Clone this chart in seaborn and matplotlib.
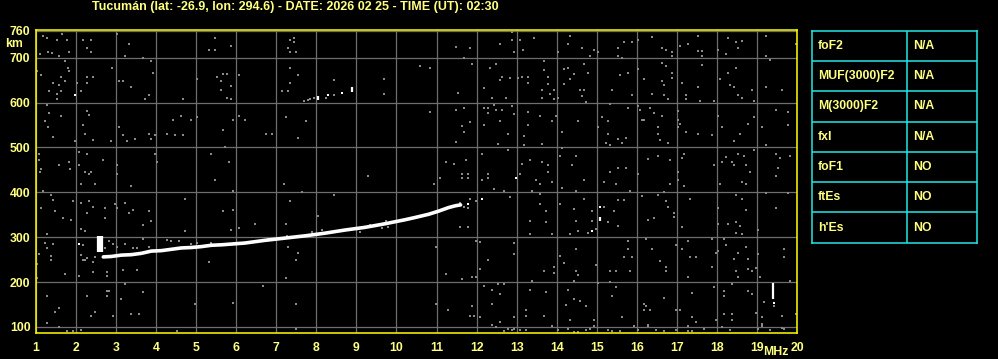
import matplotlib
matplotlib.use("Agg")
import matplotlib.pyplot as plt
import seaborn as sns
import pandas as pd

# ---------------- data ----------------
title = "Tucumán (lat: -26.9, lon: 294.6) - DATE: 2026 02 25 - TIME (UT): 02:30"
freq_ticks = list(range(1, 21))
height_ticks = [100, 200, 300, 400, 500, 600, 700, 760]

# main F-layer echo trace (MHz, km)
trace_f = [2.68, 2.88, 3.13, 3.38, 3.63, 3.88, 4.13, 4.38, 4.63, 4.88, 5.13, 5.38, 5.63,
           6.22, 6.72, 7.22, 7.72, 8.22, 8.72, 9.22, 9.72, 10.22, 10.47, 10.8, 11.05, 11.3, 11.47, 11.6]
trace_h = [256, 257, 260, 261, 264, 269, 270, 273, 276, 277, 279, 282, 283,
           287, 293, 298, 303, 309, 316, 322, 330, 339, 344, 351, 358, 366, 370, 372]

# vertical white echo segments
spike_main_f = [2.6]
spike_main_lo = [267]
spike_main_hi = [303]
spike_f = [8.03, 8.88, 15.08, 19.40]
spike_lo = [606, 623, 336, 162]
spike_hi = [614, 635, 346, 198]

# isolated white echoes
white_f = [2.07, 1.98, 8.63, 8.28, 11.78, 12.13, 12.98, 15.08, 14.88, 19.43]
white_h = [285, 617, 622, 616, 373, 385, 432, 368, 314, 153]

# grey noise dots
noise_f = [
    1.18, 1.28, 1.53, 1.65, 1.78, 1.10, 1.30, 1.40, 1.58, 1.83, 2.18, 2.38, 2.28, 2.38, 3.03, 3.33, 3.23, 3.68, 5.48, 5.33, 5.48,
    1.03, 1.13, 1.73, 1.80, 1.83, 1.63, 1.72, 1.58, 1.43, 1.33, 1.53, 1.63, 1.53, 2.13, 2.03, 2.28, 2.43, 2.28, 2.90, 3.08, 3.18, 3.38, 3.88, 3.93, 3.73, 3.83, 4.68, 5.03, 5.53, 5.63, 5.68, 5.63,
    1.28, 1.33, 1.63, 1.23, 1.30, 1.43, 1.98, 2.28, 2.33, 2.18, 2.23, 2.42, 2.88, 3.08, 3.18, 3.28, 3.48, 3.83, 3.88, 3.98, 4.28, 4.43, 4.63, 4.88, 4.48, 4.68, 5.03, 5.68,
    1.08, 1.08, 1.10, 1.13, 1.58, 1.83, 1.85, 2.08, 2.08, 2.28, 2.23, 2.33, 2.38, 2.13, 2.48, 2.68, 3.03, 3.03, 3.38, 3.98, 4.03, 5.38, 5.48, 1.18,
    1.38, 1.43, 1.13, 1.48, 1.68, 1.88, 1.93, 2.13, 2.33, 2.43, 2.28, 2.73, 2.73, 2.98, 3.03, 3.23, 3.43, 3.33, 3.83, 3.88, 3.68, 2.13, 2.23, 1.27, 4.73, 4.73, 5.68,
    1.08, 1.27, 1.43, 1.23, 1.38, 1.38, 1.03, 1.03, 1.73, 2.08, 2.18, 2.28, 2.43, 2.43, 2.78, 2.78, 3.18, 3.53, 5.33, 2.48,
    1.28, 1.58, 1.48, 1.28, 1.58, 1.93, 2.28, 2.38, 2.48, 2.78, 2.83, 2.78, 2.93, 3.13, 3.38, 3.58, 3.23, 3.68, 4.98, 2.13, 1.78, 4.53,
    2.18, 2.13, 2.23, 2.83, 2.93, 2.73, 3.03, 3.23, 3.43, 3.53, 3.68, 3.83, 4.28, 4.38, 4.58, 4.88, 5.03, 5.38,
    5.88, 7.33, 7.43, 7.43, 7.28, 7.33, 7.48, 5.78, 5.88, 6.08, 5.78, 5.88, 7.33, 7.53, 7.33, 7.13, 7.28, 8.43, 9.68, 9.68,
    5.93, 6.08, 6.23, 6.73, 6.88, 7.23, 7.73, 7.53, 5.73, 5.83, 9.28, 7.18, 5.93, 7.63, 8.43, 7.33, 5.93, 8.03, 6.48, 7.23,
    6.08, 5.88, 7.28, 7.53, 7.48, 7.23, 6.68, 5.93, 7.48, 7.48,
    7.70, 7.78, 7.85, 7.93, 8.23, 8.43,
    6.80, 7.27, 7.88, 8.13, 9.08, 9.33, 9.63, 9.73, 9.80, 10.0,
    11.48, 11.83, 12.88, 12.88, 13.08, 13.43, 12.58, 12.93, 13.16, 14.28, 14.33, 14.63, 14.93, 15.03, 14.83, 14.03,
    10.58, 10.83, 11.68, 11.88, 12.48, 12.33, 12.58, 12.63, 12.83, 13.03, 13.13, 13.28, 13.28, 13.68, 13.68, 13.78, 13.78, 13.63, 13.63, 13.83,
    13.93, 13.93, 14.18, 14.28, 14.33, 14.43, 14.68, 14.78, 14.58, 14.68, 14.63, 14.73, 14.18, 14.03, 11.53, 12.18, 12.38, 12.73,
    10.83, 11.48, 11.68, 11.83, 11.63, 11.68, 11.48, 12.18, 12.28, 12.28, 12.43, 12.48, 12.63, 12.58, 12.18, 12.78, 12.88, 12.93, 13.28, 13.28,
    13.18, 13.18, 13.58, 13.63, 13.88, 13.98, 14.13, 14.53, 15.03, 15.13, 15.23, 12.53,
    12.13, 12.78, 11.23, 11.43, 11.73, 11.63, 11.78, 11.63, 11.78, 11.08, 10.93, 12.28, 12.28, 12.13, 12.43, 12.68, 13.08, 13.13, 13.33, 13.48,
    13.58, 13.63, 13.78, 13.78, 13.88, 14.08, 14.13, 14.38, 14.48, 14.68, 15.18, 14.13, 13.38, 13.58, 14.48,
    11.83, 11.98, 11.58, 11.68, 11.78, 11.58, 11.78, 12.83, 13.58, 13.73, 14.08, 14.43, 14.68, 14.88, 14.88, 15.18, 13.33, 13.73, 13.33, 13.88,
    14.33, 14.48, 14.53, 14.78, 14.98,
    11.98, 12.08, 10.98, 12.93, 12.93, 14.08, 14.48, 12.28, 12.08, 11.23, 11.63, 11.88, 11.98, 13.68, 13.93, 13.93, 14.18, 14.48, 14.53, 14.98,
    13.38, 14.43, 15.03,
    12.18, 12.38, 12.53, 12.68, 12.58, 13.33, 13.73, 14.28, 14.43, 14.58, 14.73, 10.98, 11.28, 11.88, 11.83, 11.93, 12.08, 12.38, 13.23, 13.23,
    13.68, 14.23, 14.33, 14.93, 12.93,
    12.38, 12.48, 12.58, 12.68, 12.78, 12.88, 12.93, 13.08, 13.23, 13.88, 14.03, 14.28, 14.43, 14.53, 14.73, 14.83, 14.93,
    15.68, 15.53, 15.88, 16.03, 16.38, 16.63, 16.73, 16.88, 16.88, 17.08, 17.28, 17.53, 17.53, 17.63, 17.63, 18.03, 18.23, 18.28, 18.48, 18.63,
    18.53, 19.23, 19.23, 19.33, 19.98, 15.53, 15.63,
    15.58, 15.78, 15.38, 15.88, 16.03, 16.18, 16.38, 16.63, 16.68, 16.68, 16.78, 16.88, 16.88, 16.73, 16.63, 17.13, 17.23, 17.23, 17.53, 17.63,
    17.58, 17.93, 18.08, 18.28, 18.48, 18.33, 18.43, 18.53, 18.63, 18.88, 18.93, 19.23, 19.63,
    15.33, 15.28, 15.28, 15.33, 15.53, 15.63, 15.73, 15.78, 16.03, 16.08, 16.13, 16.18, 16.33, 16.43, 16.63, 16.53, 16.53, 16.58, 16.78, 17.03,
    17.03, 17.08, 17.03, 17.23, 17.53, 17.88, 18.03, 18.13, 18.43, 18.58, 18.78, 18.93, 19.13, 19.48, 19.78, 19.78, 19.23,
    16.28, 16.53, 16.83, 17.18, 17.13, 17.03, 17.03, 17.18, 16.83, 16.03, 15.33, 15.53, 15.73, 15.48, 15.83, 17.93, 18.08, 18.13, 18.23, 18.38,
    18.43, 18.53, 18.68, 18.73, 18.83, 18.63, 18.73, 18.93, 19.48, 19.58, 19.83, 19.53, 19.48,
    15.43, 15.28, 15.53, 15.53, 15.68, 16.13, 16.28, 16.43, 16.53, 16.68, 16.73, 16.78, 16.93, 16.93, 17.33, 17.13, 18.03, 18.03, 18.28, 18.48,
    18.63, 18.73, 18.48, 18.48, 18.63, 18.58, 19.03, 19.48, 19.23, 19.78,
    15.78, 15.78, 15.68, 15.88, 15.33, 15.48, 15.83, 16.38, 16.58, 16.73, 16.73, 16.23, 16.98, 17.13, 17.28, 17.33, 17.48, 17.28, 17.88, 17.88,
    17.98, 18.03, 18.23, 18.18, 18.53, 18.43, 18.73, 18.78, 18.48, 18.53, 18.78, 18.88, 18.98, 19.03, 19.08, 19.68, 19.68, 19.83,
    15.33, 15.48, 15.38, 16.18, 16.23, 16.68, 16.18, 16.33, 16.98, 17.08, 17.38, 17.38, 17.28, 17.48, 17.93, 18.18, 18.18, 18.38, 18.38, 18.18,
    18.38, 17.98, 18.78, 18.88, 18.98, 19.13, 19.13, 19.18, 19.63, 19.98, 16.28, 15.63, 19.43,
    15.28, 15.38, 15.58, 15.93, 16.03, 16.28, 16.48, 16.68, 16.98, 17.28, 17.38, 17.68, 18.13, 18.33, 19.03, 19.13, 19.33, 19.63, 19.68,
]
noise_h = [
    748, 743, 739, 754, 740, 708, 713, 710, 705, 713, 739, 739, 722, 713, 754, 730, 704, 699, 744, 717, 718,
    671, 661, 692, 677, 671, 658, 649, 640, 643, 625, 620, 625, 608, 625, 643, 656, 656, 644, 678, 649, 649, 634, 692, 665, 608, 616, 608, 652, 656, 649, 663, 629,
    595, 576, 571, 558, 546, 524, 515, 581, 573, 549, 531, 516, 514, 545, 527, 514, 518, 531, 519, 528, 531, 562, 571, 562, 527, 527, 567, 540,
    486, 473, 446, 451, 460, 468, 451, 491, 460, 485, 446, 441, 446, 419, 419, 471, 460, 441, 413, 486, 467, 486, 428, 404,
    395, 383, 364, 359, 343, 338, 381, 377, 381, 368, 354, 366, 343, 373, 364, 377, 361, 354, 359, 337, 328, 318, 314, 306, 386, 314, 359,
    262, 275, 284, 287, 259, 249, 240, 208, 217, 213, 249, 253, 244, 222, 222, 213, 226, 226, 244, 256,
    168, 142, 134, 108, 100, 91, 168, 124, 133, 181, 181, 168, 124, 162, 129, 129, 195, 177, 152, 93, 90, 90,
    282, 261, 250, 291, 284, 276, 279, 284, 276, 275, 296, 278, 294, 291, 292, 285, 287, 288,
    726, 740, 744, 735, 722, 713, 713, 664, 637, 661, 611, 607, 678, 661, 643, 625, 625, 651, 652, 620,
    561, 571, 561, 529, 530, 567, 558, 522, 500, 467, 437, 418, 403, 400, 395, 381, 360, 347, 329, 329,
    320, 315, 277, 264, 250, 210, 192, 153, 150, 96,
    603, 605, 607, 610, 610, 616,
    297, 303, 312, 315, 312, 328, 320, 337, 322, 333,
    723, 722, 757, 740, 740, 744, 731, 713, 718, 731, 748, 722, 718, 713, 704, 713,
    681, 678, 699, 687, 687, 678, 651, 656, 654, 654, 656, 656, 643, 693, 672, 656, 641, 629, 611, 620,
    629, 607, 674, 678, 652, 663, 687, 665, 629, 629, 614, 602, 641, 611, 622, 633, 611, 611,
    580, 584, 589, 557, 548, 534, 512, 587, 589, 576, 595, 584, 584, 558, 549, 531, 593, 575, 580, 549,
    525, 505, 570, 508, 558, 570, 535, 558, 545, 568, 511, 507,
    486, 495, 468, 464, 473, 441, 441, 432, 432, 432, 419, 441, 432, 428, 407, 404, 440, 464, 473, 427,
    419, 468, 460, 446, 423, 482, 498, 462, 480, 427, 423, 409, 404, 397, 404,
    386, 381, 376, 368, 364, 323, 323, 389, 373, 359, 374, 362, 386, 359, 337, 368, 337, 333, 306, 306,
    307, 337, 314, 310, 319,
    292, 290, 277, 286, 263, 259, 274, 250, 228, 219, 206, 211, 211, 225, 234, 221, 243, 225, 216, 239,
    203, 203, 197,
    191, 182, 195, 195, 173, 182, 177, 182, 162, 158, 146, 150, 138, 146, 124, 124, 121, 152, 138, 124,
    124, 149, 116, 116, 121,
    105, 100, 110, 90, 95, 92, 96, 92, 93, 103, 93, 96, 89, 89, 93, 95, 103,
    735, 722, 735, 740, 746, 722, 718, 713, 704, 726, 731, 748, 715, 715, 704, 718, 708, 744, 735, 737,
    722, 748, 704, 695, 731, 704, 699,
    661, 665, 629, 616, 675, 652, 620, 649, 640, 616, 607, 667, 654, 682, 689, 643, 616, 607, 634, 684,
    603, 603, 652, 665, 677, 640, 634, 616, 611, 629, 603, 634, 629,
    598, 558, 531, 505, 518, 509, 522, 589, 592, 584, 562, 561, 589, 576, 571, 545, 531, 516, 510, 581,
    562, 552, 546, 535, 531, 527, 571, 545, 514, 531, 553, 567, 545, 584, 580, 549, 505,
    475, 481, 472, 486, 477, 446, 428, 413, 419, 441, 446, 455, 455, 419, 404, 460, 419, 468, 479, 468,
    460, 486, 480, 460, 446, 423, 419, 495, 486, 477, 481, 455, 436,
    359, 333, 324, 383, 383, 392, 338, 343, 395, 401, 381, 368, 355, 346, 386, 323, 364, 329, 329, 393,
    386, 361, 333, 310, 306, 324, 315, 366, 398, 398,
    292, 274, 256, 256, 225, 225, 225, 274, 247, 234, 225, 297, 283, 274, 292, 256, 256, 211, 297, 234,
    265, 269, 283, 297, 265, 252, 277, 252, 225, 211, 229, 225, 232, 262, 211, 274, 256, 203,
    199, 190, 168, 150, 146, 164, 138, 138, 137, 137, 175, 121, 102, 110, 190, 168, 181, 195, 129, 129,
    116, 116, 181, 173, 131, 121, 107, 155, 124, 129, 104, 121, 146,
    93, 90, 90, 102, 93, 102, 93, 90, 93, 90, 90, 95, 99, 92, 95, 102, 93, 98, 95,
]

params = ["foF2", "MUF(3000)F2", "M(3000)F2", "fxI", "foF1", "ftEs", "h'Es"]
values = ["N/A", "N/A", "N/A", "N/A", "NO", "NO", "NO"]

# ---------------- style ----------------
sns.set_theme(style="dark")
plt.rcParams["font.family"] = ["Liberation Sans", "DejaVu Sans"]
plt.rcParams["font.weight"] = "bold"

YEL = "#ffff00"
TXT = "#ffff80"
GRID = "#6e6e6e"
NOISE = "#8a8a8a"
CYAN = "#20e8e8"

fig = plt.figure(figsize=(9.98, 3.59), dpi=100, facecolor="black")
ax = fig.add_axes([36 / 998, 1 - 332.5 / 359, (797 - 36) / 998, (332.5 - 29.5) / 359])
ax.set_facecolor("black")

noise_df = pd.DataFrame({"f": noise_f, "h": noise_h})
sns.scatterplot(data=noise_df, x="f", y="h", ax=ax, color=NOISE, marker="s",
                s=3.8, linewidth=0, zorder=2)

trace_df = pd.DataFrame({"f": trace_f, "h": trace_h})
sns.lineplot(data=trace_df, x="f", y="h", ax=ax, color="white", linewidth=2.6,
             sort=False, zorder=4)

ax.vlines(spike_main_f, spike_main_lo, spike_main_hi, color="white", linewidth=4.5, zorder=4)
ax.vlines(spike_f, spike_lo, spike_hi, color="white", linewidth=1.6, zorder=4)
sns.scatterplot(x=white_f, y=white_h, ax=ax, color="white", marker="s", s=4,
                linewidth=0, zorder=4)

ax.set_xlim(1, 20)
ax.set_ylim(87.5, 763)
ax.set_xticks(freq_ticks)
ax.set_xticklabels([str(v) for v in freq_ticks])
ax.set_yticks(height_ticks)
ax.set_yticklabels([str(v) for v in height_ticks])
ax.grid(True, color=GRID, linewidth=0.9, zorder=1)
ax.set_axisbelow(True)
ax.tick_params(axis="both", length=0, colors=TXT, labelsize=8.8)
ax.tick_params(axis="x", pad=7)
ax.tick_params(axis="y", pad=4)
for lab in ax.get_xticklabels() + ax.get_yticklabels():
    lab.set_fontweight("bold")
for sp in ax.spines.values():
    sp.set_visible(True)
    sp.set_color(YEL)
    sp.set_linewidth(1.1)
ax.set_xlabel("")
ax.set_ylabel("")

fig.text(5 / 998, 1 - 44 / 359, "km", color=TXT, fontsize=8.8, fontweight="bold",
         ha="left", va="center")
fig.text(789 / 998, 1 - 352 / 359, "MHz", color=TXT, fontsize=8.8, fontweight="bold",
         ha="right", va="center")
fig.text(295 / 998, 1 - 7 / 359, title, color=TXT, fontsize=9.0, fontweight="bold",
         ha="center", va="center")

# ---------------- parameter table ----------------
tax = fig.add_axes([812.3 / 998, 1 - 242.7 / 359, (977.3 - 812.3) / 998, (242.7 - 30.7) / 359])
tax.set_facecolor("black")
n = len(params)
tax.set_xlim(0, 1)
tax.set_ylim(n, 0)
tax.set_xticks([])
tax.set_yticks([])
for sp in tax.spines.values():
    sp.set_color(CYAN)
    sp.set_linewidth(1.1)
tax.hlines(range(1, n), 0, 1, color=CYAN, linewidth=1.1)
tax.vlines([0.576], 0, n, color=CYAN, linewidth=1.1)
for i, (p, v) in enumerate(zip(params, values)):
    tax.text(0.033, i + 0.5, p, color=TXT, fontsize=8.8, fontweight="bold", ha="left", va="center")
    tax.text(0.61, i + 0.5, v, color=TXT, fontsize=8.8, fontweight="bold", ha="left", va="center")

fig.savefig("out.png", dpi=100, facecolor="black")
